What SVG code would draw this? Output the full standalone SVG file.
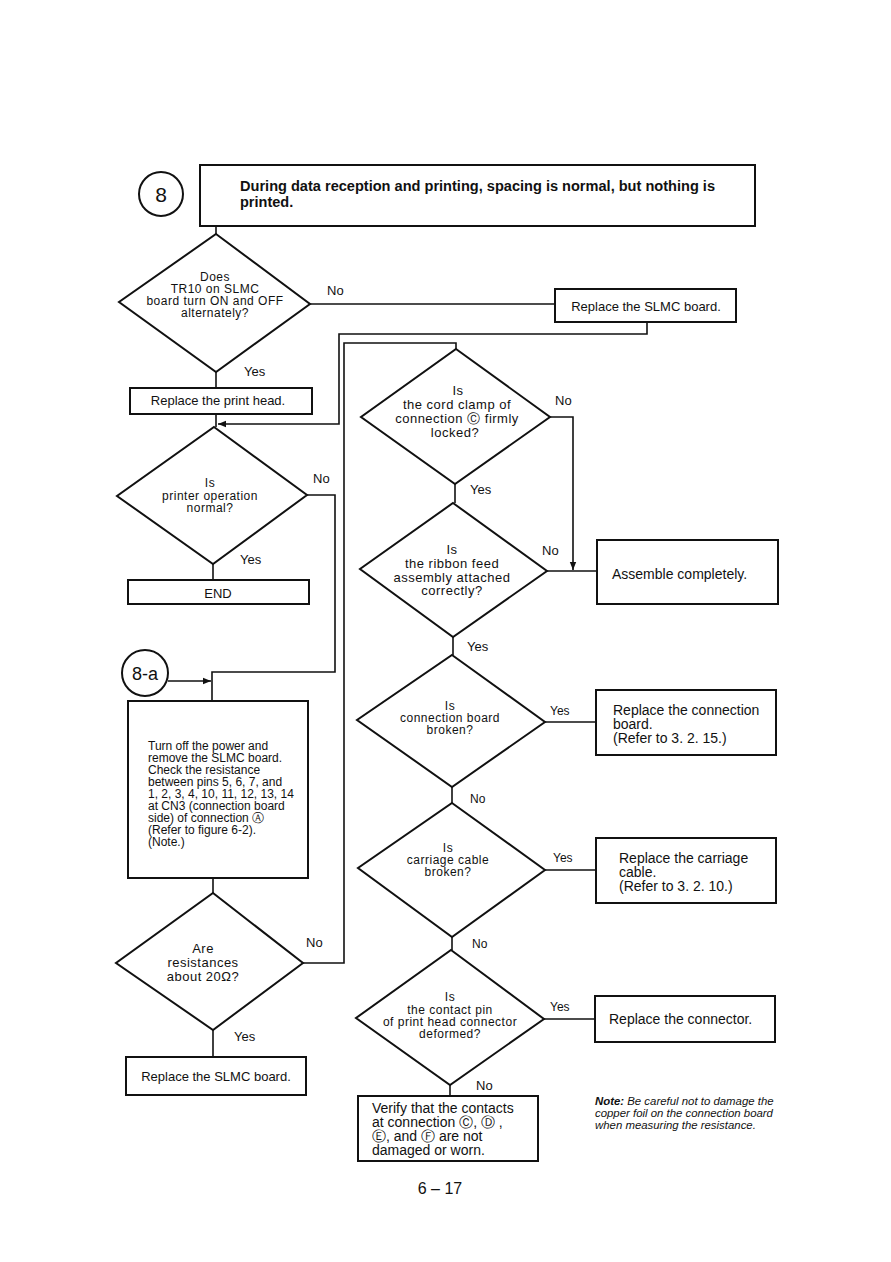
<svg xmlns="http://www.w3.org/2000/svg" width="891" height="1262" viewBox="0 0 891 1262">
<defs>
<marker id="arr" viewBox="0 0 10 10" refX="10" refY="5" markerWidth="8" markerHeight="8" orient="auto" markerUnits="userSpaceOnUse">
<path d="M0,1 L10,5 L0,9 z" fill="#111"/>
</marker>
<style>
.shape{fill:#fff;stroke:#111;stroke-width:2}
.line{fill:none;stroke:#111;stroke-width:1.6}
text{font-family:"Liberation Sans","DejaVu Sans",Arial,sans-serif;fill:#111}
.t12{font-size:12px}
.d12{font-size:12px;letter-spacing:0.5px}
.d13{font-size:13px;letter-spacing:0.5px}
.t13{font-size:13px}
.t14{font-size:14px}
.c{text-anchor:middle}
.lbl{font-size:13px}
.hdr{font-size:14.5px;font-weight:bold}
.note{font-size:11.4px;font-style:italic}
</style>
</defs>
<rect width="891" height="1262" fill="#fff"/>

<g id="connectors">
<path class="line" d="M216,226 V234"/>
<path class="line" d="M310,304 H555"/>
<path class="line" d="M216,372 V388"/>
<path class="line" d="M647,322 V334 H339 V424 H218" marker-end="url(#arr)"/>
<path class="line" d="M216,414 V427"/>
<path class="line" d="M213,564 V580"/>
<path class="line" d="M307,495 H335 V672 H212 V701"/>
<path class="line" d="M168,681 H211" marker-end="url(#arr)"/>
<path class="line" d="M213,878 V893"/>
<path class="line" d="M303,963 H344 V343 H456 V349"/>
<path class="line" d="M213,1030 V1057"/>
<path class="line" d="M455,484 V503"/>
<path class="line" d="M550,417 H573 V570" marker-end="url(#arr)"/>
<path class="line" d="M547,571 H597"/>
<path class="line" d="M453,637 V655"/>
<path class="line" d="M545,722 H596"/>
<path class="line" d="M452,787 V803"/>
<path class="line" d="M545,870 H596"/>
<path class="line" d="M452,937 V950"/>
<path class="line" d="M544,1019 H595"/>
<path class="line" d="M450,1085 V1096"/>
<text class="lbl" x="327" y="295">No</text>
<text class="lbl" x="244" y="376">Yes</text>
<text class="lbl" x="313" y="483">No</text>
<text class="lbl" x="240" y="564">Yes</text>
<text class="lbl" x="306" y="947">No</text>
<text class="lbl" x="234" y="1041">Yes</text>
<text class="lbl" x="555" y="405">No</text>
<text class="lbl" x="470" y="494">Yes</text>
<text class="lbl" x="542" y="555">No</text>
<text class="lbl" x="467" y="651">Yes</text>
<text class="t12" x="550" y="715">Yes</text>
<text class="t12" x="470" y="803">No</text>
<text class="t12" x="553" y="862">Yes</text>
<text class="t12" x="472" y="948">No</text>
<text class="t12" x="550" y="1011">Yes</text>
<text class="lbl" x="476" y="1090">No</text>
</g>

<g id="start">
<circle cx="161" cy="194" r="22" fill="#fff" stroke="#111" stroke-width="2"/>
<text x="161" y="202" class="c" style="font-size:21px">8</text>
</g>
<g id="header">
<rect class="shape" x="200" y="165" width="555" height="61"/>
<text class="hdr" x="240" y="191" textLength="475" lengthAdjust="spacingAndGlyphs">During data reception and printing, spacing is normal, but nothing is</text>
<text class="hdr" x="240" y="207">printed.</text>
</g>

<g id="q-tr10">
<polygon class="shape" points="216,234 310,304 216,372 119,302"/>
<text class="d12 c" x="215" y="281">Does</text>
<text class="d12 c" x="215" y="293">TR10 on SLMC</text>
<text class="d12 c" x="215" y="305">board turn ON and OFF</text>
<text class="d12 c" x="215" y="317">alternately?</text>
</g>
<g id="replace-slmc-1">
<rect class="shape" x="555" y="289" width="181" height="33"/>
<text class="t13 c" x="646" y="311">Replace the SLMC board.</text>
</g>
<g id="replace-head">
<rect class="shape" x="130" y="388" width="182" height="26"/>
<text class="t13 c" x="218" y="405">Replace the print head.</text>
</g>
<g id="q-printer">
<polygon class="shape" points="214,427 307,495 213,564 117,496"/>
<text class="d12 c" x="210" y="487">Is</text>
<text class="d12 c" x="210" y="500">printer operation</text>
<text class="d12 c" x="210" y="512">normal?</text>
</g>
<g id="end">
<rect class="shape" x="128" y="580" width="181" height="24"/>
<text class="t13 c" x="218" y="598">END</text>
</g>
<g id="entry-8a">
<circle cx="145" cy="673" r="23" fill="#fff" stroke="#111" stroke-width="2"/>
<text x="145" y="680" class="c" style="font-size:18px">8-a</text>
</g>
<g id="check-resistance">
<rect class="shape" x="128" y="701" width="180" height="177"/>
<text class="t12" x="148" y="750">Turn off the power and</text>
<text class="t12" x="148" y="762">remove the SLMC board.</text>
<text class="t12" x="148" y="774">Check the resistance</text>
<text class="t12" x="148" y="786">between pins 5, 6, 7, and</text>
<text class="t12" x="148" y="798">1, 2, 3, 4, 10, 11, 12, 13, 14</text>
<text class="t12" x="148" y="810">at CN3 (connection board</text>
<text class="t12" x="148" y="822">side) of connection Ⓐ</text>
<text class="t12" x="148" y="834">(Refer to figure 6-2).</text>
<text class="t12" x="148" y="846">(Note.)</text>
</g>
<g id="q-resist">
<polygon class="shape" points="213,893 303,963 213,1030 116,963"/>
<text class="d13 c" x="203" y="953">Are</text>
<text class="d13 c" x="203" y="967">resistances</text>
<text class="d13 c" x="203" y="981">about 20Ω?</text>
</g>
<g id="replace-slmc-2">
<rect class="shape" x="126" y="1057" width="180" height="38"/>
<text class="t13 c" x="216" y="1081">Replace the SLMC board.</text>
</g>

<g id="q-clamp">
<polygon class="shape" points="456,349 550,417 455,484 361,417"/>
<text class="d13 c" x="458" y="395">Is</text>
<text class="d13 c" x="457" y="409">the cord clamp of</text>
<text class="d13 c" x="457" y="423">connection Ⓒ firmly</text>
<text class="d13 c" x="455" y="437">locked?</text>
</g>
<g id="q-ribbon">
<polygon class="shape" points="453,503 547,571 453,637 360,569"/>
<text class="d13 c" x="452" y="554">Is</text>
<text class="d13 c" x="452" y="568">the ribbon feed</text>
<text class="d13 c" x="452" y="582">assembly attached</text>
<text class="d13 c" x="452" y="595">correctly?</text>
</g>
<g id="assemble">
<rect class="shape" x="597" y="540" width="181" height="64"/>
<text class="t14" x="612" y="579">Assemble completely.</text>
</g>
<g id="q-connboard">
<polygon class="shape" points="452,655 545,722 452,787 357,720"/>
<text class="d12 c" x="450" y="710">Is</text>
<text class="d12 c" x="450" y="722">connection board</text>
<text class="d12 c" x="450" y="734">broken?</text>
</g>
<g id="replace-connboard">
<rect class="shape" x="596" y="690" width="180" height="65"/>
<text class="t14" x="613" y="715">Replace the connection</text>
<text class="t14" x="613" y="729">board.</text>
<text class="t14" x="613" y="743">(Refer to 3. 2. 15.)</text>
</g>
<g id="q-carriage">
<polygon class="shape" points="452,803 545,870 452,937 358,868"/>
<text class="d12 c" x="448" y="852">Is</text>
<text class="d12 c" x="448" y="864">carriage cable</text>
<text class="d12 c" x="448" y="876">broken?</text>
</g>
<g id="replace-carriage">
<rect class="shape" x="596" y="838" width="180" height="65"/>
<text class="t14" x="619" y="863">Replace the carriage</text>
<text class="t14" x="619" y="877">cable.</text>
<text class="t14" x="619" y="891">(Refer to 3. 2. 10.)</text>
</g>
<g id="q-contactpin">
<polygon class="shape" points="451,950 544,1019 450,1085 356,1018"/>
<text class="d12 c" x="450" y="1001">Is</text>
<text class="d12 c" x="450" y="1014">the contact pin</text>
<text class="d12 c" x="450" y="1026">of print head connector</text>
<text class="d12 c" x="450" y="1038">deformed?</text>
</g>
<g id="replace-connector">
<rect class="shape" x="595" y="996" width="180" height="46"/>
<text class="t14" x="609" y="1024">Replace the connector.</text>
</g>
<g id="verify">
<rect class="shape" x="358" y="1096" width="180" height="65"/>
<text class="t14" x="372" y="1113">Verify that the contacts</text>
<text class="t14" x="372" y="1127">at connection Ⓒ, Ⓓ ,</text>
<text class="t14" x="372" y="1141">Ⓔ, and Ⓕ are not</text>
<text class="t14" x="372" y="1155">damaged or worn.</text>
</g>

<g id="note">
<text class="note" x="595" y="1105"><tspan font-weight="bold">Note:</tspan> Be careful not to damage the</text>
<text class="note" x="595" y="1117">copper foil on the connection board</text>
<text class="note" x="595" y="1129">when measuring the resistance.</text>
</g>
<text x="440" y="1194" class="c" style="font-size:16px">6 – 17</text>
</svg>
